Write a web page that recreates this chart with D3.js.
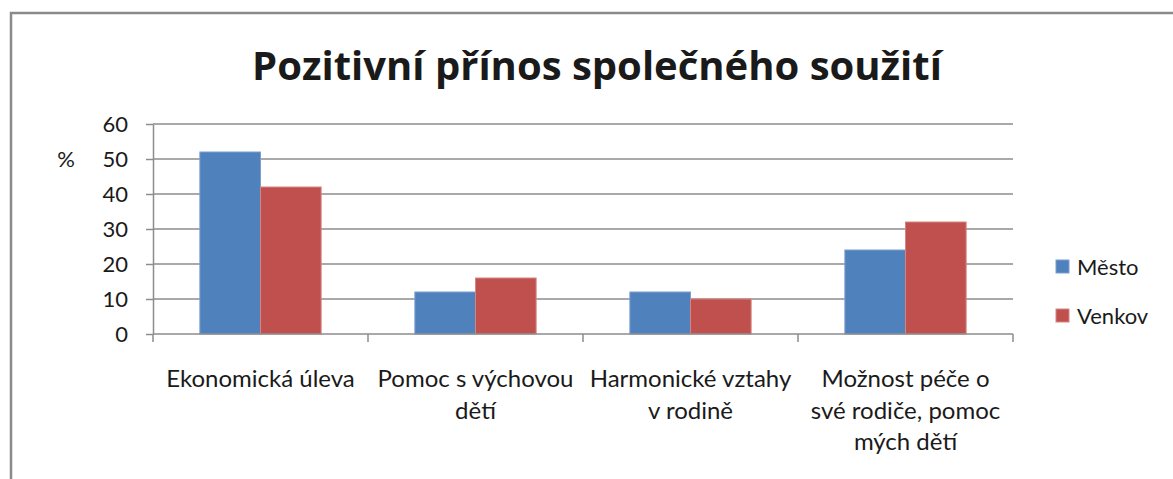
<!DOCTYPE html>
<html>
<head>
<meta charset="utf-8">
<style>
    body { margin: 0; background: #fff; }
    svg text { font-family: Lato, "Open Sans", sans-serif; fill: #1a1a1a; }
    .grid line { stroke: #8c8c8c; stroke-width: 1.5px; }
    .axis path, .axis line { stroke: #8c8c8c; stroke-width: 1.5px; }
</style>
</head>
<body>
<svg width="1173" height="479"></svg>
<script src="https://cdn.jsdelivr.net/npm/d3@7"></script>
<script>
    // data
    var categories = ["Ekonomická úleva", "Pomoc s výchovou\ndětí", "Harmonické vztahy\nv rodině", "Možnost péče o\nsvé rodiče, pomoc\nmých dětí"];
    var series = ["Město", "Venkov"];
    var mesto = [52, 12, 12, 24];
    var venkov = [42, 16, 10, 32];
    var yTicks = [0, 10, 20, 30, 40, 50, 60];
    var colors = ["#4f81bd", "#c0504d"];
    var strokes = ["#7c9fd0", "#d48583"];

    var svg = d3.select("svg");
    var margin = { top: 124, left: 153, right: 160, bottom: 145 };
    var width = 1173 - margin.left - margin.right,
        height = 479 - margin.top - margin.bottom;

    // outer frame: only top and left edges are visible
    svg.append("path")
        .attr("d", "M11,480 V13 H1180")
        .attr("fill", "none")
        .attr("stroke", "#8a8a8a")
        .attr("stroke-width", 2.5);

    svg.append("text")
        .attr("x", 597).attr("y", 80)
        .attr("text-anchor", "middle")
        .style("font-family", "'Open Sans', Lato, sans-serif")
        .style("font-weight", "bold")
        .style("font-size", "40px")
        .attr("fill", "#000")
        .text("Pozitivní přínos společného soužití");

    var g = svg.append("g").attr("transform", "translate(" + margin.left + "," + margin.top + ")");

    var x0 = d3.scaleBand().domain(d3.range(categories.length)).range([0, width]);
    var x1 = d3.scaleBand().domain(series).range([x0.bandwidth() * 0.218, x0.bandwidth() * 0.782]);
    var y = d3.scaleLinear().domain([0, 60]).range([height, 0]);

    // gridlines
    g.append("g").attr("class", "grid")
        .selectAll("line").data(yTicks.slice(1)).enter().append("line")
        .attr("x1", 0).attr("x2", width)
        .attr("y1", function (d) { return y(d); })
        .attr("y2", function (d) { return y(d); });

    var yAxis = g.append("g").attr("class", "axis")
        .call(d3.axisLeft(y).tickValues(yTicks).tickSize(7).tickPadding(18).tickSizeOuter(0));
    yAxis.selectAll("text").style("font-size", "22px").attr("fill", "#1a1a1a");

    svg.append("text")
        .attr("x", 66).attr("y", margin.top + y(50))
        .attr("dy", "0.35em")
        .attr("text-anchor", "middle")
        .style("font-size", "22px")
        .text("%");

    var rows = series.map(function (s, i) {
        return { name: s, values: i === 0 ? mesto : venkov, color: colors[i], stroke: strokes[i] };
    });

    var bars = g.selectAll(".serie").data(rows).enter().append("g").attr("class", "serie");
    bars.selectAll("rect")
        .data(function (r) { return r.values.map(function (v, i) { return { v: v, i: i, r: r }; }); })
        .enter().append("rect")
        .attr("x", function (d) { return x0(d.i) + x1(d.r.name); })
        .attr("y", function (d) { return y(d.v); })
        .attr("width", x1.bandwidth())
        .attr("height", function (d) { return height - y(d.v); })
        .attr("fill", function (d) { return d.r.color; })
        .attr("stroke", function (d) { return d.r.stroke; })
        .attr("stroke-width", 1);

    // x axis with ticks at category boundaries
    var xAxis = g.append("g").attr("class", "axis").attr("transform", "translate(0," + height + ")");
    xAxis.append("line").attr("x1", 0).attr("x2", width);
    xAxis.selectAll(".tk").data(d3.range(categories.length + 1)).enter().append("line")
        .attr("x1", function (d) { return d * x0.bandwidth(); })
        .attr("x2", function (d) { return d * x0.bandwidth(); })
        .attr("y1", 0).attr("y2", 8);

    xAxis.selectAll(".lbl").data(categories).enter().append("text")
        .attr("text-anchor", "middle")
        .attr("transform", function (d, i) { return "translate(" + (x0(i) + x0.bandwidth() / 2) + ",53)"; })
        .style("font-size", "24px")
        .each(function (d) {
            var t = d3.select(this);
            d.split("\n").forEach(function (line, k) {
                t.append("tspan").attr("x", 0).attr("y", k * 31.5).text(line);
            });
        });

    // legend
    var legend = svg.selectAll(".legend").data(rows).enter().append("g")
        .attr("transform", function (d, i) { return "translate(1056," + (260 + i * 49) + ")"; });
    legend.append("rect").attr("width", 13).attr("height", 13)
        .attr("fill", function (d) { return d.color; })
        .attr("stroke", function (d) { return d.stroke; });
    legend.append("text").attr("x", 21).attr("y", 7).attr("dy", "0.36em")
        .style("font-size", "22px")
        .text(function (d) { return d.name; });
</script>
</body>
</html>
